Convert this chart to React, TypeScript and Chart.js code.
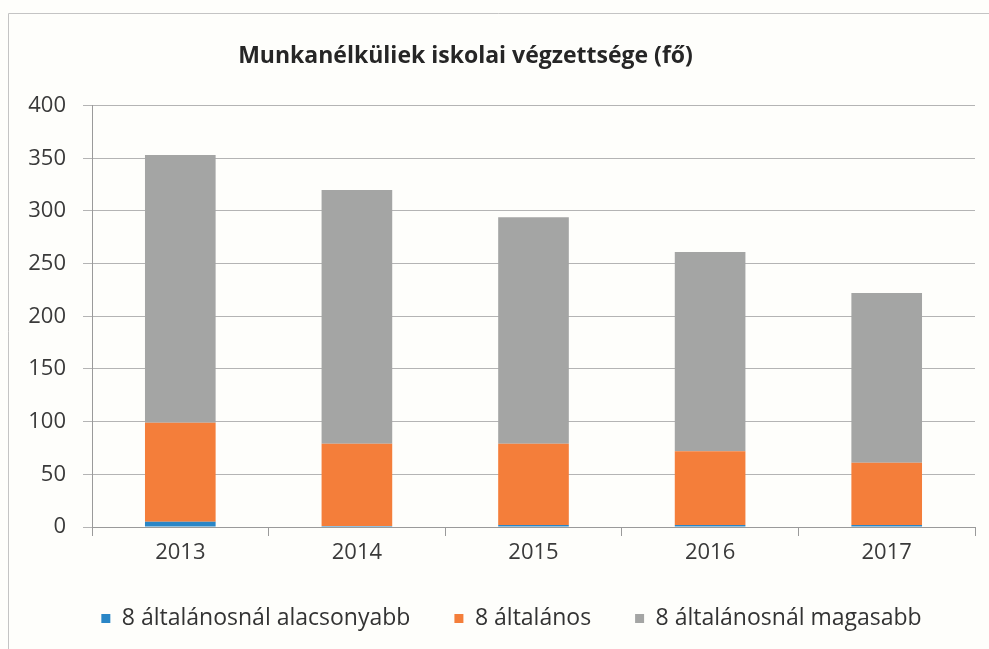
import React, { useEffect, useRef } from "react";
import { Chart, registerables } from "chart.js";

Chart.register(...registerables);

const years = ["2013", "2014", "2015", "2016", "2017"];
const below8 = [5, 1, 2, 2, 2];
const exactly8 = [94, 78, 77, 70, 59];
const above8 = [254, 241, 215, 189, 161];
const seriesNames = [
  "8 általánosnál alacsonyabb",
  "8 általános",
  "8 általánosnál magasabb",
];
const titleText = "Munkanélküliek iskolai végzettsége (fő)";

const FONT = "'Open Sans', Lato, sans-serif";

const framePlugin = {
  id: "frame",
  beforeDraw(chart: any) {
    const ctx = chart.ctx;
    ctx.save();
    ctx.fillStyle = "#fefefb";
    ctx.fillRect(0, 0, chart.width, chart.height);
    ctx.strokeStyle = "#c4c4c4";
    ctx.lineWidth = 1;
    ctx.beginPath();
    ctx.moveTo(8.5, chart.height);
    ctx.lineTo(8.5, 13.5);
    ctx.lineTo(chart.width, 13.5);
    ctx.stroke();
    ctx.restore();
  },
};

const shiftPlugin = {
  id: "shiftBlocks",
  afterLayout(chart: any) {
    if (chart.titleBlock) {
      chart.titleBlock.left -= 22;
      chart.titleBlock.right -= 22;
    }
    if (chart.legend) {
      chart.legend.left += 24;
      chart.legend.right += 24;
    }
  },
};

export default function App() {
  const ref = useRef<HTMLCanvasElement | null>(null);

  useEffect(() => {
    if (!ref.current) return;
    const chart = new Chart(ref.current, {
      type: "bar",
      data: {
        labels: years,
        datasets: [
          { label: seriesNames[0], data: below8, backgroundColor: "#2a86c6" },
          { label: seriesNames[1], data: exactly8, backgroundColor: "#f47e3a" },
          { label: seriesNames[2], data: above8, backgroundColor: "#a4a5a4" },
        ],
      },
      options: {
        responsive: false,
        animation: false,
        layout: { padding: { left: 0, right: 14, top: 14, bottom: 9 } },
        datasets: {
          bar: { barPercentage: 0.4, categoryPercentage: 1 },
        },
        plugins: {
          title: {
            display: true,
            text: titleText,
            color: "#262626",
            font: { family: FONT, size: 23, weight: "bold" },
            padding: { top: 29, bottom: 35 },
          },
          legend: {
            position: "bottom",
            labels: {
              boxWidth: 9,
              boxHeight: 9,
              padding: 44,
              color: "#333333",
              font: { family: FONT, size: 23 },
            },
          },
          tooltip: { enabled: false },
        },
        scales: {
          x: {
            stacked: true,
            offset: true,
            grid: {
              display: true,
              drawOnChartArea: false,
              offset: true,
              tickLength: 9,
              color: "#9a9a9a",
            },
            border: { display: true, color: "#9a9a9a" },
            ticks: {
              color: "#3a3a3a",
              padding: 4,
              font: { family: FONT, size: 22 },
            },
            afterFit(scale: any) {
              scale.height = 36;
            },
          },
          y: {
            stacked: true,
            min: 0,
            max: 400,
            ticks: {
              stepSize: 50,
              color: "#3a3a3a",
              padding: 17,
              font: { family: FONT, size: 22 },
            },
            grid: { color: "#b4b4b4", tickLength: 9 },
            border: { display: true, color: "#9a9a9a" },
            afterFit(scale: any) {
              scale.width = 92;
            },
          },
        },
      },
      plugins: [framePlugin, shiftPlugin],
    });
    return () => chart.destroy();
  }, []);

  return (
    <div
      style={{
        position: "fixed",
        left: 0,
        top: 0,
        width: 989,
        height: 649,
        background: "#fefefb",
      }}
    >
      <canvas ref={ref} width={989} height={649} style={{ display: "block" }} />
    </div>
  );
}
